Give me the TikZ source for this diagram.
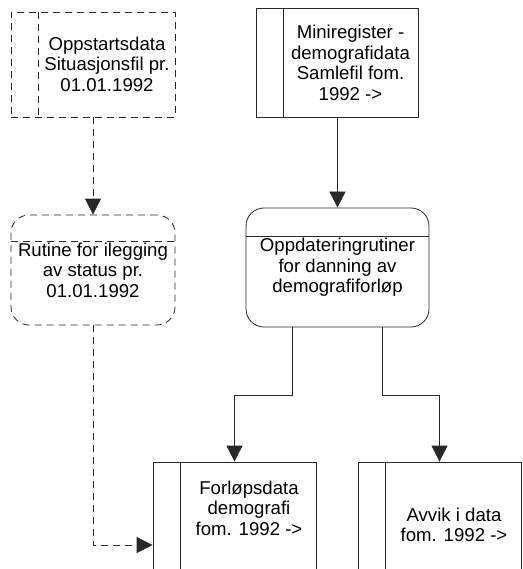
\documentclass[tikz,border=0pt]{standalone}
\usepackage{fontspec}
\setmainfont{Liberation Sans}
\usetikzlibrary{arrows.meta,positioning}
\definecolor{linjegra}{RGB}{40,40,40}

\begin{document}
\begin{tikzpicture}[x=1pt,y=-1pt]
    % Define styles
    \tikzstyle{datafil} = [rectangle, draw=linjegra, line width=0.8pt, minimum width=163pt, inner sep=0pt]
    \tikzstyle{rutine} = [rectangle, rounded corners=18pt, draw=linjegra, line width=0.8pt, align=center, font=\fontsize{18.6}{20.5}\selectfont, inner sep=0pt]
    \tikzstyle{tekst} = [align=center, font=\fontsize{18.6}{20.5}\selectfont, inner sep=0pt]
    \tikzstyle{stiplet} = [dash pattern=on 7pt off 5pt]
    \tikzstyle{skille} = [draw=linjegra, line width=0.8pt]
    \tikzstyle{pil} = [line width=0.8pt, linjegra, -{Triangle[length=16pt,width=16pt]}]

    \useasboundingbox (0,0) rectangle (522,569);
    \clip (0,0) rectangle (522,569);

    % Create nodes
    \node (oppstart) [datafil, stiplet, minimum width=164pt, minimum height=105pt] at (93,64.5) {};
    \node (oppstarttxt) [tekst] at (107,64) {Oppstartsdata\\Situasjonsfil pr.\\01.01.1992};

    \node (mini) [datafil, minimum width=162pt, minimum height=109pt] at (337.5,62.5) {};
    \node (minitxt) [tekst] at (350.5,63) {Miniregister -\\demografidata\\Samlefil fom.\\1992 ->};

    \node (ilegg) [rutine, stiplet, minimum width=164pt, minimum height=110pt] at (93,270) {Rutine for ilegging\\av status pr.\\01.01.1992};
    \node (oppdat) [rutine, minimum width=183pt, minimum height=119pt] at (337.5,267.5) {Oppdateringrutiner\\for danning av\\demografiforløp};

    \node (forlop) [datafil, minimum height=166pt] at (234.5,545) {};
    \node (forloptxt) [tekst] at (249,508) {Forløpsdata\\demografi\\fom. 1992 ->};

    \node (avvik) [datafil, minimum height=166pt] at (439.5,545) {};
    \node (avviktxt) [tekst] at (454,525) {Avvik i data\\fom. 1992 ->};

    % Inner lines
    \draw [skille, stiplet] ([xshift=28pt]oppstart.north west) -- ([xshift=28pt]oppstart.south west);
    \draw [skille] ([xshift=27pt]mini.north west) -- ([xshift=27pt]mini.south west);
    \draw [skille, stiplet] ([yshift=-27pt]ilegg.north west) -- ([yshift=-27pt]ilegg.north east);
    \draw [skille] ([yshift=-29pt]oppdat.north west) -- ([yshift=-29pt]oppdat.north east);
    \draw [skille] ([xshift=28pt]forlop.north west) -- ([xshift=28pt]forlop.south west);
    \draw [skille] ([xshift=28pt]avvik.north west) -- ([xshift=28pt]avvik.south west);

    % Draw dependencies
    \draw [pil, stiplet] (oppstart) -- (ilegg);
    \draw [pil] (mini) -- (oppdat);
    \draw [pil, stiplet] (ilegg.south) |- (forlop.west);
    \draw [pil] ([xshift=-45pt]oppdat.south) -- ++(0,68) -| (forlop.north);
    \draw [pil] ([xshift=45pt]oppdat.south) -- ++(0,68) -| (avvik.north);
\end{tikzpicture}
\end{document}
